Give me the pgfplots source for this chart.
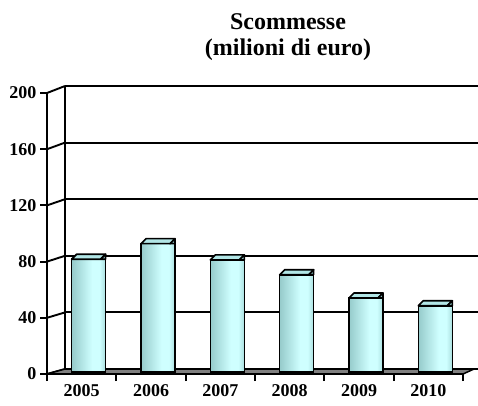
\documentclass[border=0pt]{standalone}
\usepackage{pgfplots}
\pgfplotsset{compat=1.18}
\usepackage{fontspec}
\setmainfont{Liberation Serif}
\definecolor{barL}{HTML}{96CBCB}
\definecolor{barR}{HTML}{CFFFFF}
\definecolor{barS}{HTML}{A9DEDE}
\definecolor{capc}{HTML}{B2E6E6}
\definecolor{sidec}{HTML}{88BFBF}
\definecolor{floorc}{HTML}{808080}
\pgfdeclarehorizontalshading{barshade}{100bp}{color(0bp)=(barL); color(25bp)=(barL);
  color(55bp)=(barR); color(66bp)=(barR); color(75bp)=(barS); color(100bp)=(barS)}

\pgfdeclareplotmark{barcap}{%
  \filldraw[fill=capc, draw=black, line width=1.6pt, line join=round]
    (-17pt,0pt) -- (12pt,0pt) -- (17pt,5pt) -- (-12pt,5pt) -- cycle;
  \filldraw[fill=sidec, draw=black, line width=1.6pt, line join=round]
    (12pt,0pt) -- (17pt,5pt) -- (17pt,0pt) -- cycle;
}

\begin{document}
\begin{tikzpicture}[x=1pt,y=1pt]
\useasboundingbox (0,0) rectangle (478,405);
% back wall
\begin{axis}[at={(65pt,36pt)}, anchor=south west, scale only axis,
  width=420pt, height=283pt, xmin=0, xmax=1, ymin=0, ymax=200,
  axis x line=none, axis y line*=left, ytick={0,40,...,200}, yticklabels={},
  major tick length=0pt, ymajorgrids, grid style={black, line width=1.9pt},
  axis line style={line width=2.2pt}]
\end{axis}
% side wall diagonals
\foreach \v in {0,40,...,200} {
  \draw[line width=1.9pt] (47, {31+\v/200*281}) -- (65, {36+\v/200*283});
}
% floor
\filldraw[fill=floorc, draw=black, line width=1.5pt, line join=round]
  (47,31) -- (463,31) -- (474,36) -- (65,36) -- cycle;
% bars
\begin{axis}[at={(54pt,33pt)}, anchor=south west, scale only axis,
  width=416pt, height=282pt, xmin=-0.5, xmax=5.5, ymin=0, ymax=200,
  hide axis, clip=false,
  barsty/.style={ybar, bar shift=0pt, bar width=34pt, draw=black,
    line width=1.6pt, shading=barshade}]
\addplot[barsty] coordinates {(0,80)};
\addplot[barsty] coordinates {(1,91)};
\addplot[barsty] coordinates {(2,79.5)};
\addplot[barsty] coordinates {(3,69)};
\addplot[barsty] coordinates {(4,52.5)};
\addplot[barsty] coordinates {(5,47)};
\addplot[only marks, mark=barcap] coordinates
  {(0,80) (1,91) (2,79.5) (3,69) (4,52.5) (5,47)};
\end{axis}
% front axis
\begin{axis}[at={(47pt,31pt)}, anchor=south west, scale only axis,
  width=416pt, height=281pt, xmin=-0.5, xmax=5.5, ymin=0, ymax=200,
  axis x line*=bottom, axis y line*=left,
  axis line style={line width=2.2pt},
  xtick={-0.5,0.5,...,5.5}, x tick label as interval,
  xticklabels={2005,2006,2007,2008,2009,2010},
  ytick={0,40,...,200},
  tick align=outside, tick style={black, line width=2pt},
  major tick length=7pt,
  tick label style={font=\bfseries\fontsize{18}{18}\selectfont},
  /pgf/number format/assume math mode=true]
\end{axis}
\node[align=center, font=\bfseries\fontsize{24}{26}\selectfont] at (288,368)
  {Scommesse\\(milioni di euro)};
\end{tikzpicture}
\end{document}
